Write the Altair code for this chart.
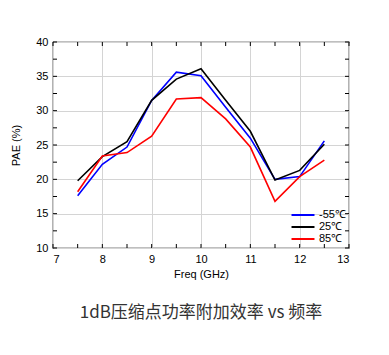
import altair as alt
import pandas as pd

freqs = [7.5, 8, 8.5, 9, 9.5, 10, 10.5, 11, 11.5, 12, 12.5]
pae_m55 = [17.6, 22.2, 24.7, 31.5, 35.6, 35.1, 30.5, 26.0, 20.0, 20.4, 25.6]
pae_25 = [19.8, 23.3, 25.5, 31.5, 34.6, 36.1, 31.5, 27.0, 19.9, 21.3, 25.1]
pae_85 = [18.2, 23.4, 23.9, 26.3, 31.7, 31.9, 28.8, 24.7, 16.8, 20.4, 22.8]
series_names = ["-55℃", "25℃", "85℃"]
series_colors = ["#0000FF", "#000000", "#FF0000"]
x_ticks_minor = [7, 7.5, 8, 8.5, 9, 9.5, 10, 10.5, 11, 11.5, 12, 12.5, 13]
y_ticks_minor = [10, 12.5, 15, 17.5, 20, 22.5, 25, 27.5, 30, 32.5, 35, 37.5, 40]
x_labels = [7, 8, 9, 10, 11, 12, 13]
y_labels = [10, 15, 20, 25, 30, 35, 40]

W, H = 296, 206

rows = []
for name, vals in zip(series_names, [pae_m55, pae_25, pae_85]):
    for f, v in zip(freqs, vals):
        rows.append({"freq": f, "pae": v, "series": name})
df = pd.DataFrame(rows)

xscale = alt.Scale(domain=[7, 13], nice=False)
yscale = alt.Scale(domain=[10, 40], nice=False)

xaxis = alt.Axis(title="Freq (GHz)", values=x_labels, grid=True,
                 gridColor="#d4d4d4", tickSize=0, domain=False,
                 labelOverlap=False,
                 labelPadding=5, titlePadding=4, labelFontSize=11,
                 titleFontSize=11, titleFontWeight="normal",
                 labelColor="#000", titleColor="#000",
                 labelFont="Liberation Sans", titleFont="Liberation Sans")
yaxis = alt.Axis(title="PAE (%)", values=y_labels, grid=True,
                 gridColor="#d4d4d4", tickSize=0, domain=False,
                 labelOverlap=False,
                 labelPadding=5, titlePadding=14, labelFontSize=11,
                 titleFontSize=11, titleFontWeight="normal",
                 labelColor="#000", titleColor="#000",
                 labelFont="Liberation Sans", titleFont="Liberation Sans")

lines = alt.Chart(df).mark_line(strokeWidth=1.6, clip=True).encode(
    x=alt.X("freq:Q", scale=xscale, axis=xaxis, title="Freq (GHz)"),
    y=alt.Y("pae:Q", scale=yscale, axis=yaxis, title="PAE (%)"),
    color=alt.Color("series:N",
                    scale=alt.Scale(domain=series_names, range=series_colors),
                    sort=series_names,
                    legend=alt.Legend(title=None, orient="none", legendX=243, legendY=166,
                                      symbolType="M-2,0L2,0", symbolSize=132,
                                      symbolStrokeWidth=2, labelFontSize=11,
                                      labelFont="Liberation Sans", labelColor="#000",
                                      rowPadding=-1, labelOffset=9)),
)

xt = pd.DataFrame({"t": x_ticks_minor})
yt = pd.DataFrame({"t": y_ticks_minor})

tick_bottom = alt.Chart(xt).mark_rule(color="#000", strokeWidth=1).encode(
    x=alt.X("t:Q", scale=xscale, axis=xaxis, title="Freq (GHz)"), y=alt.value(H), y2=alt.value(H - 4))
tick_top = alt.Chart(xt).mark_rule(color="#000", strokeWidth=1).encode(
    x=alt.X("t:Q", scale=xscale, axis=xaxis, title="Freq (GHz)"), y=alt.value(0), y2=alt.value(4))
tick_left = alt.Chart(yt).mark_rule(color="#000", strokeWidth=1).encode(
    y=alt.Y("t:Q", scale=yscale, axis=yaxis, title="PAE (%)"), x=alt.value(0), x2=alt.value(4))
tick_right = alt.Chart(yt).mark_rule(color="#000", strokeWidth=1).encode(
    y=alt.Y("t:Q", scale=yscale, axis=yaxis, title="PAE (%)"), x=alt.value(W), x2=alt.value(W - 4))

chart = alt.layer(lines, tick_bottom, tick_top, tick_left, tick_right).properties(
    width=W, height=H,
    autosize=alt.AutoSizeParams(type="none"),
    padding={"left": 53, "top": 42, "right": 40, "bottom": 107},
    title=alt.TitleParams("1dB压缩点功率附加效率 vs 频率", orient="bottom",
                          font="Noto Sans CJK SC", fontSize=17, fontWeight="normal",
                          color="#333333", offset=26, anchor="middle"),
    background="white",
).configure_view(stroke="#000", strokeWidth=1.2)

chart.save("out.html", embed_options={"renderer": "svg", "actions": False})
